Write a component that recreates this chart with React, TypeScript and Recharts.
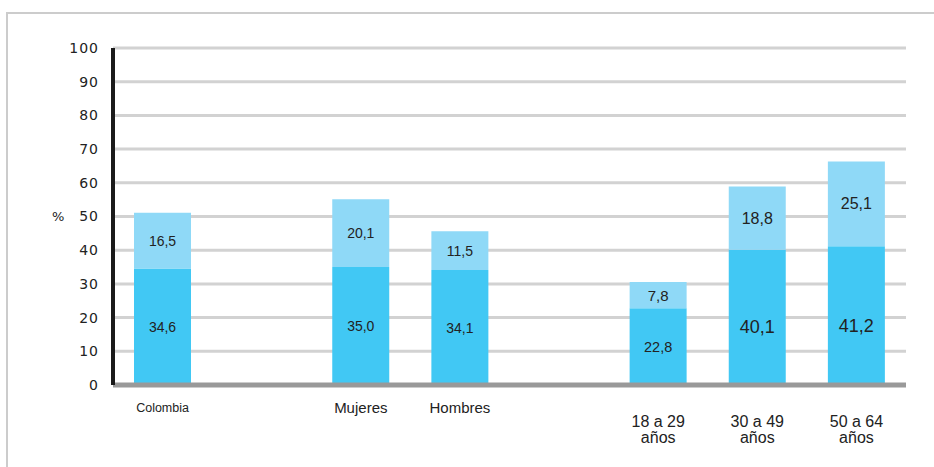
import { BarChart, Bar, XAxis, YAxis, CartesianGrid, LabelList } from 'recharts';

const categories = ['Colombia', 'gap1', 'Mujeres', 'Hombres', 'gap2', '18 a 29 años', '30 a 49 años', '50 a 64 años'];
const baseValues = [34.6, null, 35.0, 34.1, null, 22.8, 40.1, 41.2];
const extraValues = [16.5, null, 20.1, 11.5, null, 7.8, 18.8, 25.1];
const yTicks = [0, 10, 20, 30, 40, 50, 60, 70, 80, 90, 100];

const data = categories.map((name, i) => ({ name, base: baseValues[i], extra: extraValues[i] }));

const font = "'Liberation Sans', Arial, sans-serif";

// label look per category: [bottom size, top size], bottom label nudge
const labelLook: Record<string, { sizes: [number, number]; dy: number }> = {
  Colombia: { sizes: [14, 14], dy: 0 },
  Mujeres: { sizes: [14, 14], dy: 0 },
  Hombres: { sizes: [14, 14], dy: 0 },
  '18 a 29 años': { sizes: [14.5, 15], dy: 0 },
  '30 a 49 años': { sizes: [18, 16], dy: 10 },
  '50 a 64 años': { sizes: [18, 16], dy: 10 },
};

const textColor = '#222';

function makeLabel(series: 0 | 1) {
  const values = series === 0 ? baseValues : extraValues;
  return (props: any) => {
    const { x, y, width, height, value } = props;
    const i = categories.indexOf(String(value));
    const v = values[i];
    if (v == null) return null;
    const look = labelLook[categories[i]];
    return (
      <text
        x={Number(x) + Number(width) / 2}
        y={Number(y) + Number(height) / 2 + (series === 0 ? look.dy : 0)}
        textAnchor="middle"
        dominantBaseline="central"
        fontFamily={font}
        fontSize={look.sizes[series]}
        fill={textColor}
      >
        {v.toFixed(1).replace('.', ',')}
      </text>
    );
  };
}

function CategoryTick(props: any) {
  const { x, y, payload } = props;
  const name: string = payload.value;
  if (name.startsWith('gap')) return null;
  if (name.endsWith('años')) {
    const first = name.replace(' años', '');
    return (
      <g>
        <text x={x} y={y + 42} textAnchor="middle" fontFamily={font} fontSize={16} fill={textColor}>
          {first}
        </text>
        <text x={x} y={y + 58} textAnchor="middle" fontFamily={font} fontSize={16} fill={textColor}>
          años
        </text>
      </g>
    );
  }
  const small = name === 'Colombia';
  return (
    <text
      x={x}
      y={y + (small ? 26.5 : 28)}
      textAnchor="middle"
      fontFamily={font}
      fontSize={small ? 12.5 : 15}
      fill={textColor}
    >
      {name}
    </text>
  );
}

export default function App() {
  return (
    <div style={{ position: 'absolute', left: 0, top: 0, width: 934, height: 467, background: '#fff' }}>
      <div
        style={{
          position: 'absolute',
          left: 6,
          top: 12,
          right: 0,
          bottom: 0,
          borderTop: '2px solid #cccccc',
          borderLeft: '2px solid #cccccc',
        }}
      />
      <div style={{ position: 'absolute', left: 0, top: 0 }}>
        <BarChart
          width={934}
          height={467}
          data={data}
          margin={{ top: 48, right: 28, left: 0, bottom: 52 }}
          barCategoryGap={0}
        >
          <CartesianGrid vertical={false} stroke="#d2d2d2" strokeWidth={3} />
          <Bar dataKey="base" stackId="a" fill="#41c8f4" barSize={57} isAnimationActive={false}>
            <LabelList dataKey="name" content={makeLabel(0)} />
          </Bar>
          <Bar dataKey="extra" stackId="a" fill="#8fd9f7" barSize={57} isAnimationActive={false}>
            <LabelList dataKey="name" content={makeLabel(1)} />
          </Bar>
          <XAxis
            dataKey="name"
            height={30}
            interval={0}
            tickLine={false}
            tickSize={0}
            tickMargin={0}
            axisLine={{ stroke: '#999999', strokeWidth: 5 }}
            tick={<CategoryTick />}
          />
          <YAxis
            width={113}
            domain={[0, 100]}
            ticks={yTicks}
            interval={0}
            tickLine={false}
            tickSize={0}
            tickMargin={14}
            axisLine={{ stroke: '#1a1a1a', strokeWidth: 4 }}
            tick={{ fill: textColor, fontSize: 14, fontFamily: "'DejaVu Sans', sans-serif", letterSpacing: 1 }}
            label={{
              value: '%',
              position: 'insideLeft',
              offset: 52,
              fill: textColor,
              fontSize: 13,
              fontFamily: "'DejaVu Sans', sans-serif",
            }}
          />
        </BarChart>
      </div>
    </div>
  );
}
